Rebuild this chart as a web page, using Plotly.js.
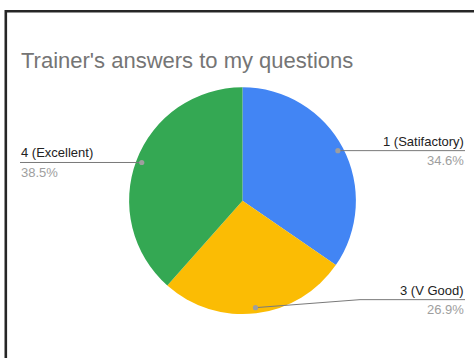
<!DOCTYPE html>
<html>
<head>
<meta charset="utf-8">
<script src="https://cdn.plot.ly/plotly-3.0.1.min.js"></script>
<style>html,body{margin:0;padding:0;background:#fff;}#chart{width:474px;height:358px;}</style>
</head>
<body>
<div id="chart"></div>
<script>
// ---- data ----
const categories = ["1 (Satifactory)", "3 (V Good)", "4 (Excellent)"];
const counts = [9, 7, 10];
const colors = ["#4285F4", "#FBBC04", "#34A853"];
const chartTitle = "Trainer's answers to my questions";

// ---- layout constants (pixels) ----
const W = 474, H = 358;
const cx = 242.5, cy = 200.7, R = 113.4;
const dotFrac = 0.95;
const rightEnd = 465, leftEnd = 20;
const labelDy = [0, -8, 0];          // vertical shift of label line per slice
const labelElbow = [null, 360, null]; // elbow x for slanted leader
const FONT = "Arial, 'Liberation Sans', sans-serif";

const px = x => x / W;
const py = y => 1 - y / H;

const total = counts.reduce((a, b) => a + b, 0);
const shapes = [];
const annotations = [];

// frame
shapes.push({type: 'line', xref: 'paper', yref: 'paper', x0: px(5.8), x1: px(W + 2), y0: py(11.2), y1: py(11.2), line: {color: '#262626', width: 2.6}});
shapes.push({type: 'line', xref: 'paper', yref: 'paper', x0: px(5.8), x1: px(5.8), y0: py(10), y1: py(H + 2), line: {color: '#262626', width: 2.6}});

let cum = 0;
counts.forEach((v, i) => {
  const mid = (cum + v / 2) / total * 2 * Math.PI;
  cum += v;
  const dx = cx + dotFrac * R * Math.sin(mid);
  const dy = cy - dotFrac * R * Math.cos(mid);
  const right = Math.sin(mid) > 0;
  const lineY = dy + labelDy[i];
  const end = right ? rightEnd : leftEnd;
  let path = `M ${px(dx)} ${py(dy)}`;
  if (labelElbow[i] !== null) path += ` L ${px(labelElbow[i])} ${py(lineY)}`;
  path += ` L ${px(end)} ${py(lineY)}`;
  shapes.push({type: 'path', xref: 'paper', yref: 'paper', path: path, line: {color: '#7a7a7a', width: 1}});
  const r = 2.6;
  shapes.push({type: 'circle', xref: 'paper', yref: 'paper', x0: px(dx - r), x1: px(dx + r), y0: py(dy + r), y1: py(dy - r), fillcolor: '#9e9e9e', line: {width: 0}});
  const pct = (v / total * 100).toFixed(1) + '%';
  annotations.push({xref: 'paper', yref: 'paper', x: px(end), y: py(lineY - 1), xanchor: right ? 'right' : 'left', yanchor: 'bottom', text: categories[i], showarrow: false, font: {family: FONT, size: 13, color: '#222222'}, borderpad: 0});
  annotations.push({xref: 'paper', yref: 'paper', x: px(end), y: py(lineY + 1.5), xanchor: right ? 'right' : 'left', yanchor: 'top', text: pct, showarrow: false, font: {family: FONT, size: 13, color: '#9e9e9e'}, borderpad: 0});
});

const trace = {
  type: 'pie',
  labels: categories,
  values: counts,
  marker: {colors: colors, line: {width: 0}},
  sort: false,
  direction: 'clockwise',
  rotation: 0,
  textinfo: 'none',
  hoverinfo: 'none',
  showlegend: false,
  domain: {x: [(cx - R) / W, (cx + R) / W], y: [1 - (cy + R) / H, 1 - (cy - R) / H]}
};

const layout = {
  width: W, height: H,
  margin: {l: 0, r: 0, t: 0, b: 0},
  paper_bgcolor: '#ffffff',
  title: {text: chartTitle, x: 21 / W, xanchor: 'left', xref: 'paper', yref: 'paper', y: py(53), yanchor: 'top', font: {family: FONT, size: 22, color: '#757575'}},
  shapes: shapes,
  annotations: annotations,
  showlegend: false
};

Plotly.newPlot('chart', [trace], layout, {displayModeBar: false, staticPlot: true});
</script>
</body>
</html>
